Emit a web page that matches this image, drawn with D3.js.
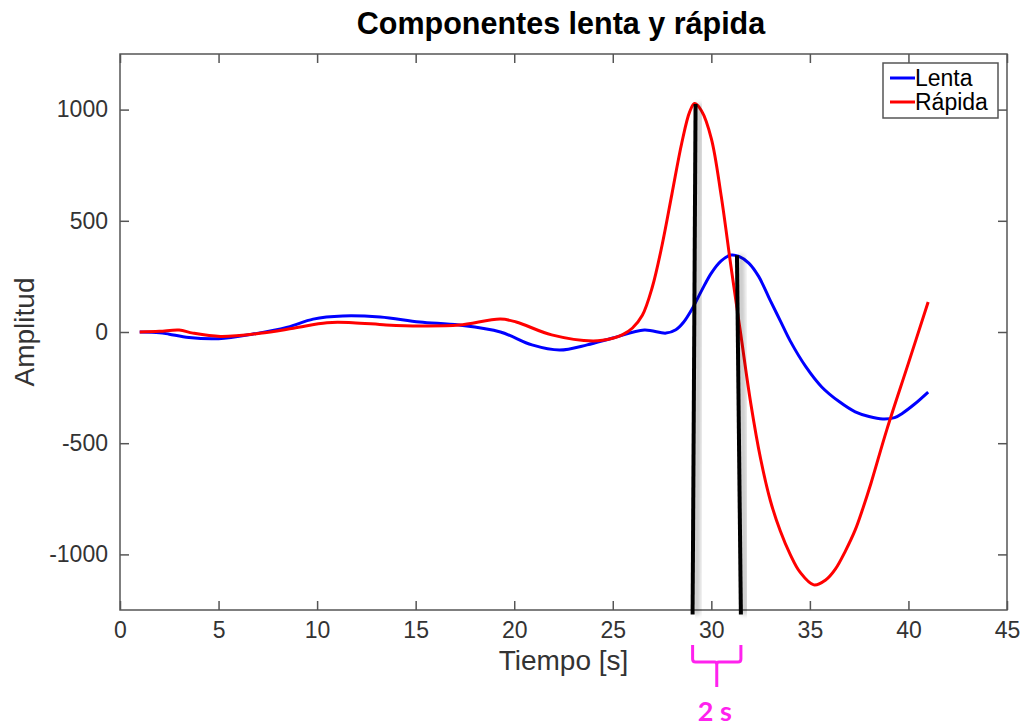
<!DOCTYPE html>
<html>
<head>
<meta charset="utf-8">
<script src="https://cdn.jsdelivr.net/npm/d3@7"></script>
<style>
  body { margin: 0; background: #fff; }
  svg { font-family: "Liberation Sans", Arial, Helvetica, sans-serif; }
  .tick text { fill: #333; font-size: 23px; }
  .domain { display: none; }
  .tick line { stroke: #555; stroke-width: 1.5; }
</style>
</head>
<body>
<svg width="1026" height="728"></svg>
<script>
// slow component (Lenta)
var lentaT = [1, 2, 2.5, 3.5, 5, 6.7, 8.5, 9.8, 11.3, 13.2, 15.2, 17.2, 19.3, 20.9, 22.3, 23.7, 25.0, 26.6, 27.7, 28.2, 28.6, 29.0, 29.5, 30.0, 30.5, 31.0, 31.4, 31.9, 32.4, 33.0, 33.5, 34.0, 34.8, 35.6, 36.5, 37.3, 38.0, 38.7, 39.3, 39.7, 40.3, 41];
var lentaV = [0, -3, -10, -25, -30, -10, 22, 58, 72, 67, 45, 31, 0, -58, -81, -58, -27, 9, -5, 10, 45, 100, 185, 265, 320, 346, 340, 310, 250, 140, 50, -40, -157, -247, -314, -359, -380, -391, -385, -365, -325, -270];

// fast component (Rápida)
var rapidaT = [1, 2, 3.0, 3.7, 5.1, 7.1, 8.8, 10.5, 11.8, 13.5, 15.2, 17.2, 19.3, 20.1, 21.9, 24.0, 25.0, 25.5, 26.0, 26.5, 27.0, 27.5, 28.0, 28.5, 28.9, 29.15, 29.5, 30.0, 30.5, 31.0, 31.5, 32.0, 32.5, 33.0, 33.5, 34.0, 34.5, 35.2, 35.8, 36.3, 36.8, 37.3, 37.7, 38.1, 38.9, 40.0, 41];
var rapidaV = [0, 3, 9, -5, -20, -6, 17, 42, 42, 32, 27, 31, 58, 45, -13, -40, -28, -12, 18, 75, 200, 390, 620, 850, 990, 1027, 995, 870, 612, 292, -15, -320, -570, -760, -895, -1000, -1080, -1137, -1115, -1065, -985, -890, -790, -680, -440, -140, 135];

// marker lines: [t top, value top, t bottom, value bottom]
var marks = [[29.2, 1025, 29.05, -1270], [31.3, 345, 31.5, -1270]];

var xTicks = [0, 5, 10, 15, 20, 25, 30, 35, 40, 45];
var yTicks = [-1000, -500, 0, 500, 1000];
var series = [
  { name: "Lenta", color: "#0000ff", t: lentaT, v: lentaV },
  { name: "Rápida", color: "#ff0000", t: rapidaT, v: rapidaV }
];

var margin = { top: 54, right: 19, bottom: 118, left: 120 };
var width = 1026 - margin.left - margin.right;
var height = 728 - margin.top - margin.bottom;

var svg = d3.select("svg");
var defs = svg.append("defs");
defs.append("filter").attr("id", "blur")
  .attr("x", "-50%").attr("width", "200%")
  .append("feGaussianBlur").attr("stdDeviation", 2.5);

var g = svg.append("g")
  .attr("transform", "translate(" + margin.left + "," + margin.top + ")");

var x = d3.scaleLinear().domain([0, 45]).range([0, width]);
var y = d3.scaleLinear().domain([-1250, 1250]).range([height, 0]);
var fmt = function(d) { return String(d); };

// axes, ticks pointing inward like matlab
g.append("g").attr("transform", "translate(0," + height + ")")
  .call(d3.axisBottom(x).tickValues(xTicks).tickFormat(fmt).tickSizeInner(-9).tickSizeOuter(0).tickPadding(12));
g.append("g")
  .call(d3.axisTop(x).tickValues(xTicks).tickSizeInner(-9).tickSizeOuter(0).tickFormat(""));
g.append("g")
  .call(d3.axisLeft(y).tickValues(yTicks).tickFormat(fmt).tickSizeInner(-9).tickSizeOuter(0).tickPadding(12));
g.append("g").attr("transform", "translate(" + width + ",0)")
  .call(d3.axisRight(y).tickValues(yTicks).tickSizeInner(-9).tickSizeOuter(0).tickFormat(""));

g.append("rect")
  .attr("width", width).attr("height", height)
  .attr("fill", "none").attr("stroke", "#555").attr("stroke-width", 1.5);

var line = d3.line()
  .x(function(d) { return x(d[0]); })
  .y(function(d) { return y(d[1]); })
  .curve(d3.curveCatmullRom.alpha(0.5));

series.forEach(function(s) {
  g.append("path")
    .datum(d3.zip(s.t, s.v))
    .attr("fill", "none")
    .attr("stroke", s.color)
    .attr("stroke-width", 3)
    .attr("d", line);
});

// black marker lines with soft shadow
marks.forEach(function(m) {
  g.append("line")
    .attr("x1", x(m[0]) + 4).attr("y1", y(m[1]))
    .attr("x2", x(m[2]) + 4).attr("y2", y(m[3]))
    .attr("stroke", "#000").attr("stroke-opacity", 0.25)
    .attr("stroke-width", 6).attr("filter", "url(#blur)");
  g.append("line")
    .attr("x1", x(m[0])).attr("y1", y(m[1]))
    .attr("x2", x(m[2])).attr("y2", y(m[3]))
    .attr("stroke", "#000").attr("stroke-width", 4);
});

// brace under the markers
var bx0 = x(marks[0][2]), bx1 = x(marks[1][2]), bm = (bx0 + bx1) / 2;
var by = height + 35;
g.append("path")
  .attr("d", "M" + bx0 + "," + by + " V" + (by + 14) + " Q" + bx0 + "," + (by + 17) + " " + (bx0 + 3) + "," + (by + 17) +
    " H" + (bm - 2) + " Q" + bm + "," + (by + 17) + " " + bm + "," + (by + 20) + " V" + (by + 42) +
    " M" + bm + "," + (by + 20) + " Q" + bm + "," + (by + 17) + " " + (bm + 2) + "," + (by + 17) +
    " H" + (bx1 - 3) + " Q" + bx1 + "," + (by + 17) + " " + bx1 + "," + (by + 14) + " V" + by)
  .attr("fill", "none").attr("stroke", "#ff22ee").attr("stroke-width", 3);
g.append("text")
  .attr("x", bm - 2).attr("y", height + 111)
  .attr("text-anchor", "middle")
  .attr("fill", "#ff22ee")
  .style("font-family", "Lato, 'Open Sans', sans-serif")
  .style("font-weight", "bold").style("font-size", "27px")
  .text("2 s");

// titles
svg.append("text")
  .attr("x", 561).attr("y", 34)
  .attr("text-anchor", "middle")
  .style("font-weight", "bold").style("font-size", "30.5px")
  .text("Componentes lenta y rápida");
svg.append("text")
  .attr("x", margin.left + width / 2).attr("y", 670)
  .attr("text-anchor", "middle").attr("fill", "#333")
  .style("font-size", "28px")
  .text("Tiempo [s]");
svg.append("text")
  .attr("transform", "translate(34," + (margin.top + height / 2) + ") rotate(-90)")
  .attr("text-anchor", "middle").attr("fill", "#333")
  .style("font-size", "28px")
  .text("Amplitud");

// legend
var lg = svg.append("g").attr("transform", "translate(883,63)");
lg.append("rect").attr("width", 115).attr("height", 55)
  .attr("fill", "#fff").attr("stroke", "#555").attr("stroke-width", 1.5);
series.forEach(function(s, i) {
  var ly = 15 + i * 24;
  lg.append("line").attr("x1", 7).attr("x2", 32).attr("y1", ly).attr("y2", ly)
    .attr("stroke", s.color).attr("stroke-width", 3);
  lg.append("text").attr("x", 32).attr("y", ly + 8)
    .style("font-size", "23px").text(s.name);
});
</script>
</body>
</html>
